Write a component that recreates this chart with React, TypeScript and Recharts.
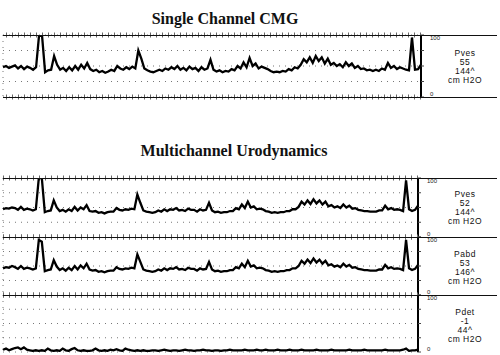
import { LineChart, Line, XAxis, YAxis, CartesianGrid, ReferenceLine } from "recharts";

// pressure samples (cm H2O), one every ~3 px of trace
const cmgPves = [
  48, 50, 47, 49, 51, 46, 50, 45, 49, 47,
  44, 48, 100, 98, 40, 43, 44, 66, 52, 44,
  47, 42, 48, 43, 50, 44, 52, 46, 55, 45,
  42, 44, 40, 42, 39, 41, 44, 42, 50, 46,
  44, 48, 45, 49, 46, 75, 62, 46, 43, 41,
  40, 42, 44, 42, 46, 44, 48, 45, 50, 44,
  47, 43, 49, 45, 47, 42, 48, 44, 46, 60,
  44, 41, 43, 40, 42, 41, 45, 43, 50, 46,
  56, 48, 63, 50, 54, 46, 49, 47, 45, 42,
  40, 41, 40, 42, 41, 45, 43, 48, 46, 52,
  61, 56, 64, 55, 66, 58, 64, 54, 62, 52,
  55, 50, 53, 48, 56, 50, 54, 47, 50, 45,
  46, 43, 44, 42, 44, 42, 46, 44, 55, 47,
  50, 45, 48, 46, 44, 43, 96, 44, 45, 52,
];

const pves = [
  47, 49, 48, 50, 49, 46, 51, 46, 48, 47,
  45, 47, 100, 100, 42, 44, 45, 62, 50, 44,
  46, 43, 47, 44, 51, 45, 50, 47, 54, 44,
  43, 44, 41, 42, 40, 42, 43, 43, 49, 46,
  45, 47, 46, 48, 47, 72, 58, 45, 43, 42,
  41, 42, 45, 43, 47, 44, 47, 46, 49, 45,
  46, 44, 48, 46, 46, 43, 47, 45, 46, 58,
  45, 42, 43, 41, 42, 42, 44, 44, 49, 47,
  55, 49, 60, 50, 52, 47, 48, 47, 44, 43,
  41, 42, 41, 42, 42, 44, 44, 47, 47, 51,
  60, 55, 62, 56, 64, 57, 62, 55, 60, 52,
  54, 50, 52, 49, 55, 50, 53, 48, 49, 46,
  45, 44, 44, 43, 43, 43, 45, 45, 53, 47,
  49, 46, 47, 46, 44, 96, 47, 44, 46, 53,
];

const pabd = [
  46, 48, 47, 50, 48, 45, 50, 45, 47, 46,
  44, 46, 95, 92, 41, 43, 44, 60, 49, 43,
  46, 42, 47, 43, 50, 44, 51, 46, 54, 44,
  42, 43, 40, 41, 39, 41, 42, 42, 48, 45,
  44, 46, 45, 47, 46, 70, 57, 44, 42, 41,
  40, 41, 44, 42, 46, 43, 46, 45, 48, 44,
  45, 43, 47, 45, 45, 42, 46, 44, 45, 57,
  44, 41, 42, 40, 41, 41, 43, 43, 48, 46,
  54, 48, 59, 49, 51, 46, 47, 46, 43, 42,
  40, 41, 40, 41, 41, 43, 43, 46, 46, 50,
  59, 54, 61, 55, 63, 56, 61, 54, 59, 51,
  53, 49, 51, 48, 54, 49, 52, 47, 48, 45,
  44, 43, 43, 42, 42, 42, 44, 44, 52, 46,
  48, 45, 46, 45, 43, 95, 46, 43, 45, 52,
];

const pdet = [
  4, 6, 3, 5, 7, 8, 5, 8, 4, 3,
  2, 3, 2, 3, 2, 6, 3, 2, 3, 2,
  6, 3, 2, 5, 7, 3, 2, 3, 2, 2,
  3, 6, 3, 2, 3, 2, 4, 3, 5, 3,
  2, 6, 4, 3, 2, 3, 2, 3, 2, 2,
  3, 3, 2, 3, 4, 3, 2, 3, 3, 2,
  3, 4, 3, 3, 2, 3, 3, 4, 3, 3,
  2, 3, 3, 2, 3, 3, 4, 3, 3, 3,
  3, 4, 3, 3, 3, 4, 3, 3, 4, 3,
  3, 3, 4, 3, 3, 3, 4, 3, 3, 3,
  4, 3, 3, 3, 3, 4, 3, 3, 3, 3,
  4, 3, 3, 3, 3, 3, 4, 3, 3, 3,
  3, 4, 3, 3, 3, 3, 3, 3, 4, 3,
  3, 3, 3, 3, 4, 6, 2, 3, 3, 4,
];

const timeGrid = [13, 32.3, 51.6, 70.9, 90.2, 109.5, 128.8];
const pressureTicks = [0, 25, 50, 75, 100];

const toRows = (values: number[]) => values.map((v, i) => ({ t: i, v }));

const PressureTick = (props: any) => {
  const { x, y, payload } = props;
  if (payload.value !== 0 && payload.value !== 100) return <g />;
  return (
    <text
      x={x + 4}
      y={payload.value === 100 ? y + 5 : y - 1}
      fontSize={6}
      fontFamily="Liberation Sans, Arial, sans-serif"
      fill="#222"
    >
      {payload.value}
    </text>
  );
};

interface PanelProps {
  values: number[];
  top: number; // plot top, px
  bottom: number; // plot bottom, px
  right: number; // plot right edge (axis), px
  label: string[];
  labelTop: number;
  hashBottom?: boolean;
}

function Panel({ values, top, bottom, right, label, labelTop, hashBottom = true }: PanelProps) {
  const pad = 5;
  const h = bottom - top + pad * 2;
  const axisW = 20;
  return (
    <>
      <div style={{ position: "absolute", left: 0, top: top - pad }}>
        <LineChart
          width={500}
          height={h}
          data={toRows(values)}
          margin={{ top: pad, bottom: pad, left: 3, right: 500 - right - axisW }}
        >
          <CartesianGrid stroke="#777" strokeDasharray="1 5" />
          <XAxis
            dataKey="t"
            type="number"
            domain={[0, 139]}
            ticks={timeGrid}
            axisLine={false}
            tickLine={false}
            tick={false}
            height={0}
          />
          <YAxis
            orientation="right"
            type="number"
            domain={[0, 100]}
            allowDataOverflow
            ticks={pressureTicks}
            interval={0}
            width={axisW}
            tickSize={3}
            axisLine={{ stroke: "#000", strokeWidth: 2 }}
            tickLine={{ stroke: "#444" }}
            tick={<PressureTick />}
          />
          <ReferenceLine y={100} stroke="#666" strokeWidth={5} strokeDasharray="1 5" />
          {hashBottom && (
            <ReferenceLine y={0} stroke="#666" strokeWidth={5} strokeDasharray="1 5" />
          )}
          <Line
            dataKey="v"
            type="linear"
            stroke="#000"
            strokeWidth={2.3}
            dot={false}
            isAnimationActive={false}
          />
        </LineChart>
      </div>
      {/* frame lines run past the axis to the page edge */}
      <div style={{ position: "absolute", left: 3, top: top - 0.5, width: 494, height: 1, background: "#111" }} />
      {hashBottom && (
        <div style={{ position: "absolute", left: 3, top: bottom - 0.5, width: 494, height: 1, background: "#111" }} />
      )}
      <div
        style={{
          position: "absolute",
          left: 430,
          top: labelTop,
          width: 70,
          textAlign: "center",
          fontFamily: "Liberation Sans, Arial, sans-serif",
          fontSize: 8.5,
          letterSpacing: 0.5,
          lineHeight: "9px",
          color: "#111",
        }}
      >
        {label.map((l) => (
          <div key={l} style={{ height: 9 }}>{l}</div>
        ))}
      </div>
    </>
  );
}

const titleStyle = {
  position: "absolute" as const,
  left: 0,
  width: 500,
  textAlign: "center" as const,
  fontFamily: "Liberation Serif, Times New Roman, serif",
  fontWeight: "bold" as const,
  fontSize: 16,
  color: "#111",
};

export default function App() {
  return (
    <div style={{ position: "absolute", left: 0, top: 0, width: 500, height: 355, background: "#fff", overflow: "hidden" }}>
      <div style={{ ...titleStyle, left: -25, top: 10 }}>Single Channel CMG</div>
      <Panel values={cmgPves} top={35} bottom={97} right={421} label={["Pves", "55", "144^", "cm H2O"]} labelTop={49} />

      <div style={{ ...titleStyle, left: -16, top: 142 }}>Multichannel Urodynamics</div>
      <Panel values={pves} top={178} bottom={237} right={418} label={["Pves", "52", "144^", "cm H2O"]} labelTop={190} />
      <Panel values={pabd} top={237} bottom={295} right={418} label={["Pabd", "53", "146^", "cm H2O"]} labelTop={250} />
      <Panel values={pdet} top={295} bottom={352} right={418} label={["Pdet", "-1", "44^", "cm H2O"]} labelTop={308} hashBottom={false} />
    </div>
  );
}
